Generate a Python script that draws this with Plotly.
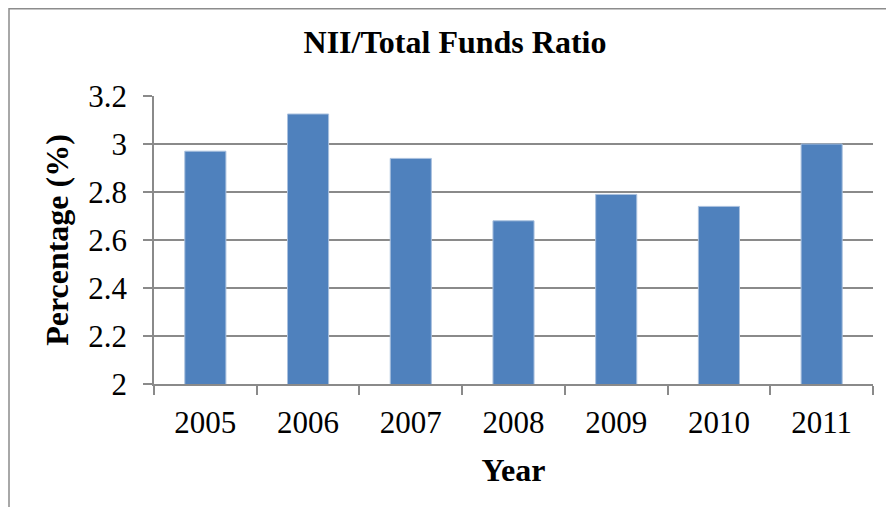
import plotly.graph_objects as go

years = ["2005", "2006", "2007", "2008", "2009", "2010", "2011"]
ratios = [2.97, 3.125, 2.94, 2.68, 2.79, 2.74, 3.00]
y_tickvals = [2, 2.2, 2.4, 2.6, 2.8, 3, 3.2]
y_ticktext = ["2", "2.2", "2.4", "2.6", "2.8", "3", "3.2"]

# page has an 8px body margin; figure sized to fit the 894x515 window
W, H = 878, 499
ml, mr, mt, mb = 146, 13, 88, 123
pw, ph = W - ml - mr, H - mt - mb

font_family = "Liberation Serif, Times New Roman, serif"
grid = "#8a8a8a"

fig = go.Figure(go.Bar(
    x=years, y=ratios,
    marker=dict(color="#4f81bd", line=dict(color="#a9c0de", width=1)),
))

fig.update_layout(
    width=W, height=H,
    margin=dict(l=ml, r=mr, t=mt, b=mb),
    paper_bgcolor="white", plot_bgcolor="white",
    bargap=0.6,
    showlegend=False,
    font=dict(family=font_family, color="black"),
    title=dict(text="<b>NII/Total Funds Ratio</b>", x=(447 - ml) / pw, xref="paper",
               xanchor="center", y=1 - 34 / H, yanchor="middle",
               font=dict(size=32, family=font_family)),
    xaxis=dict(
        type="category",
        showline=True, linecolor=grid, linewidth=1.5,
        ticks="outside", ticklen=9, tickcolor=grid, tickwidth=1.5,
        tickson="boundaries",
        tickfont=dict(size=31, family=font_family),
        ticklabelstandoff=10,
        showgrid=False,
        title=dict(text="<b>Year</b>", font=dict(size=32, family=font_family), standoff=20),
    ),
    yaxis=dict(
        range=[2, 3.2],
        tickvals=y_tickvals, ticktext=y_ticktext,
        showline=True, linecolor=grid, linewidth=1.5,
        ticks="outside", ticklen=9, tickcolor=grid, tickwidth=1.5,
        tickfont=dict(size=31, family=font_family),
        ticklabelstandoff=10,
        showgrid=True, gridcolor=grid, gridwidth=1.5,
        zeroline=False,
        title=dict(text="<b>Percentage (%)</b>", font=dict(size=32, family=font_family), standoff=10),
    ),
)

# outer chart-area border (left and top edges visible in the reference)
x0 = (1 - ml) / pw
x1 = (W + 40 - ml) / pw
y1 = (H - mb - 0.75) / ph
y0 = -(mb + 40) / ph
fig.add_shape(type="rect", xref="paper", yref="paper", x0=x0, x1=x1, y0=y0, y1=y1,
              line=dict(color="#8c8c8c", width=1.5), fillcolor="rgba(0,0,0,0)", layer="below")

fig.write_html("out.html")
